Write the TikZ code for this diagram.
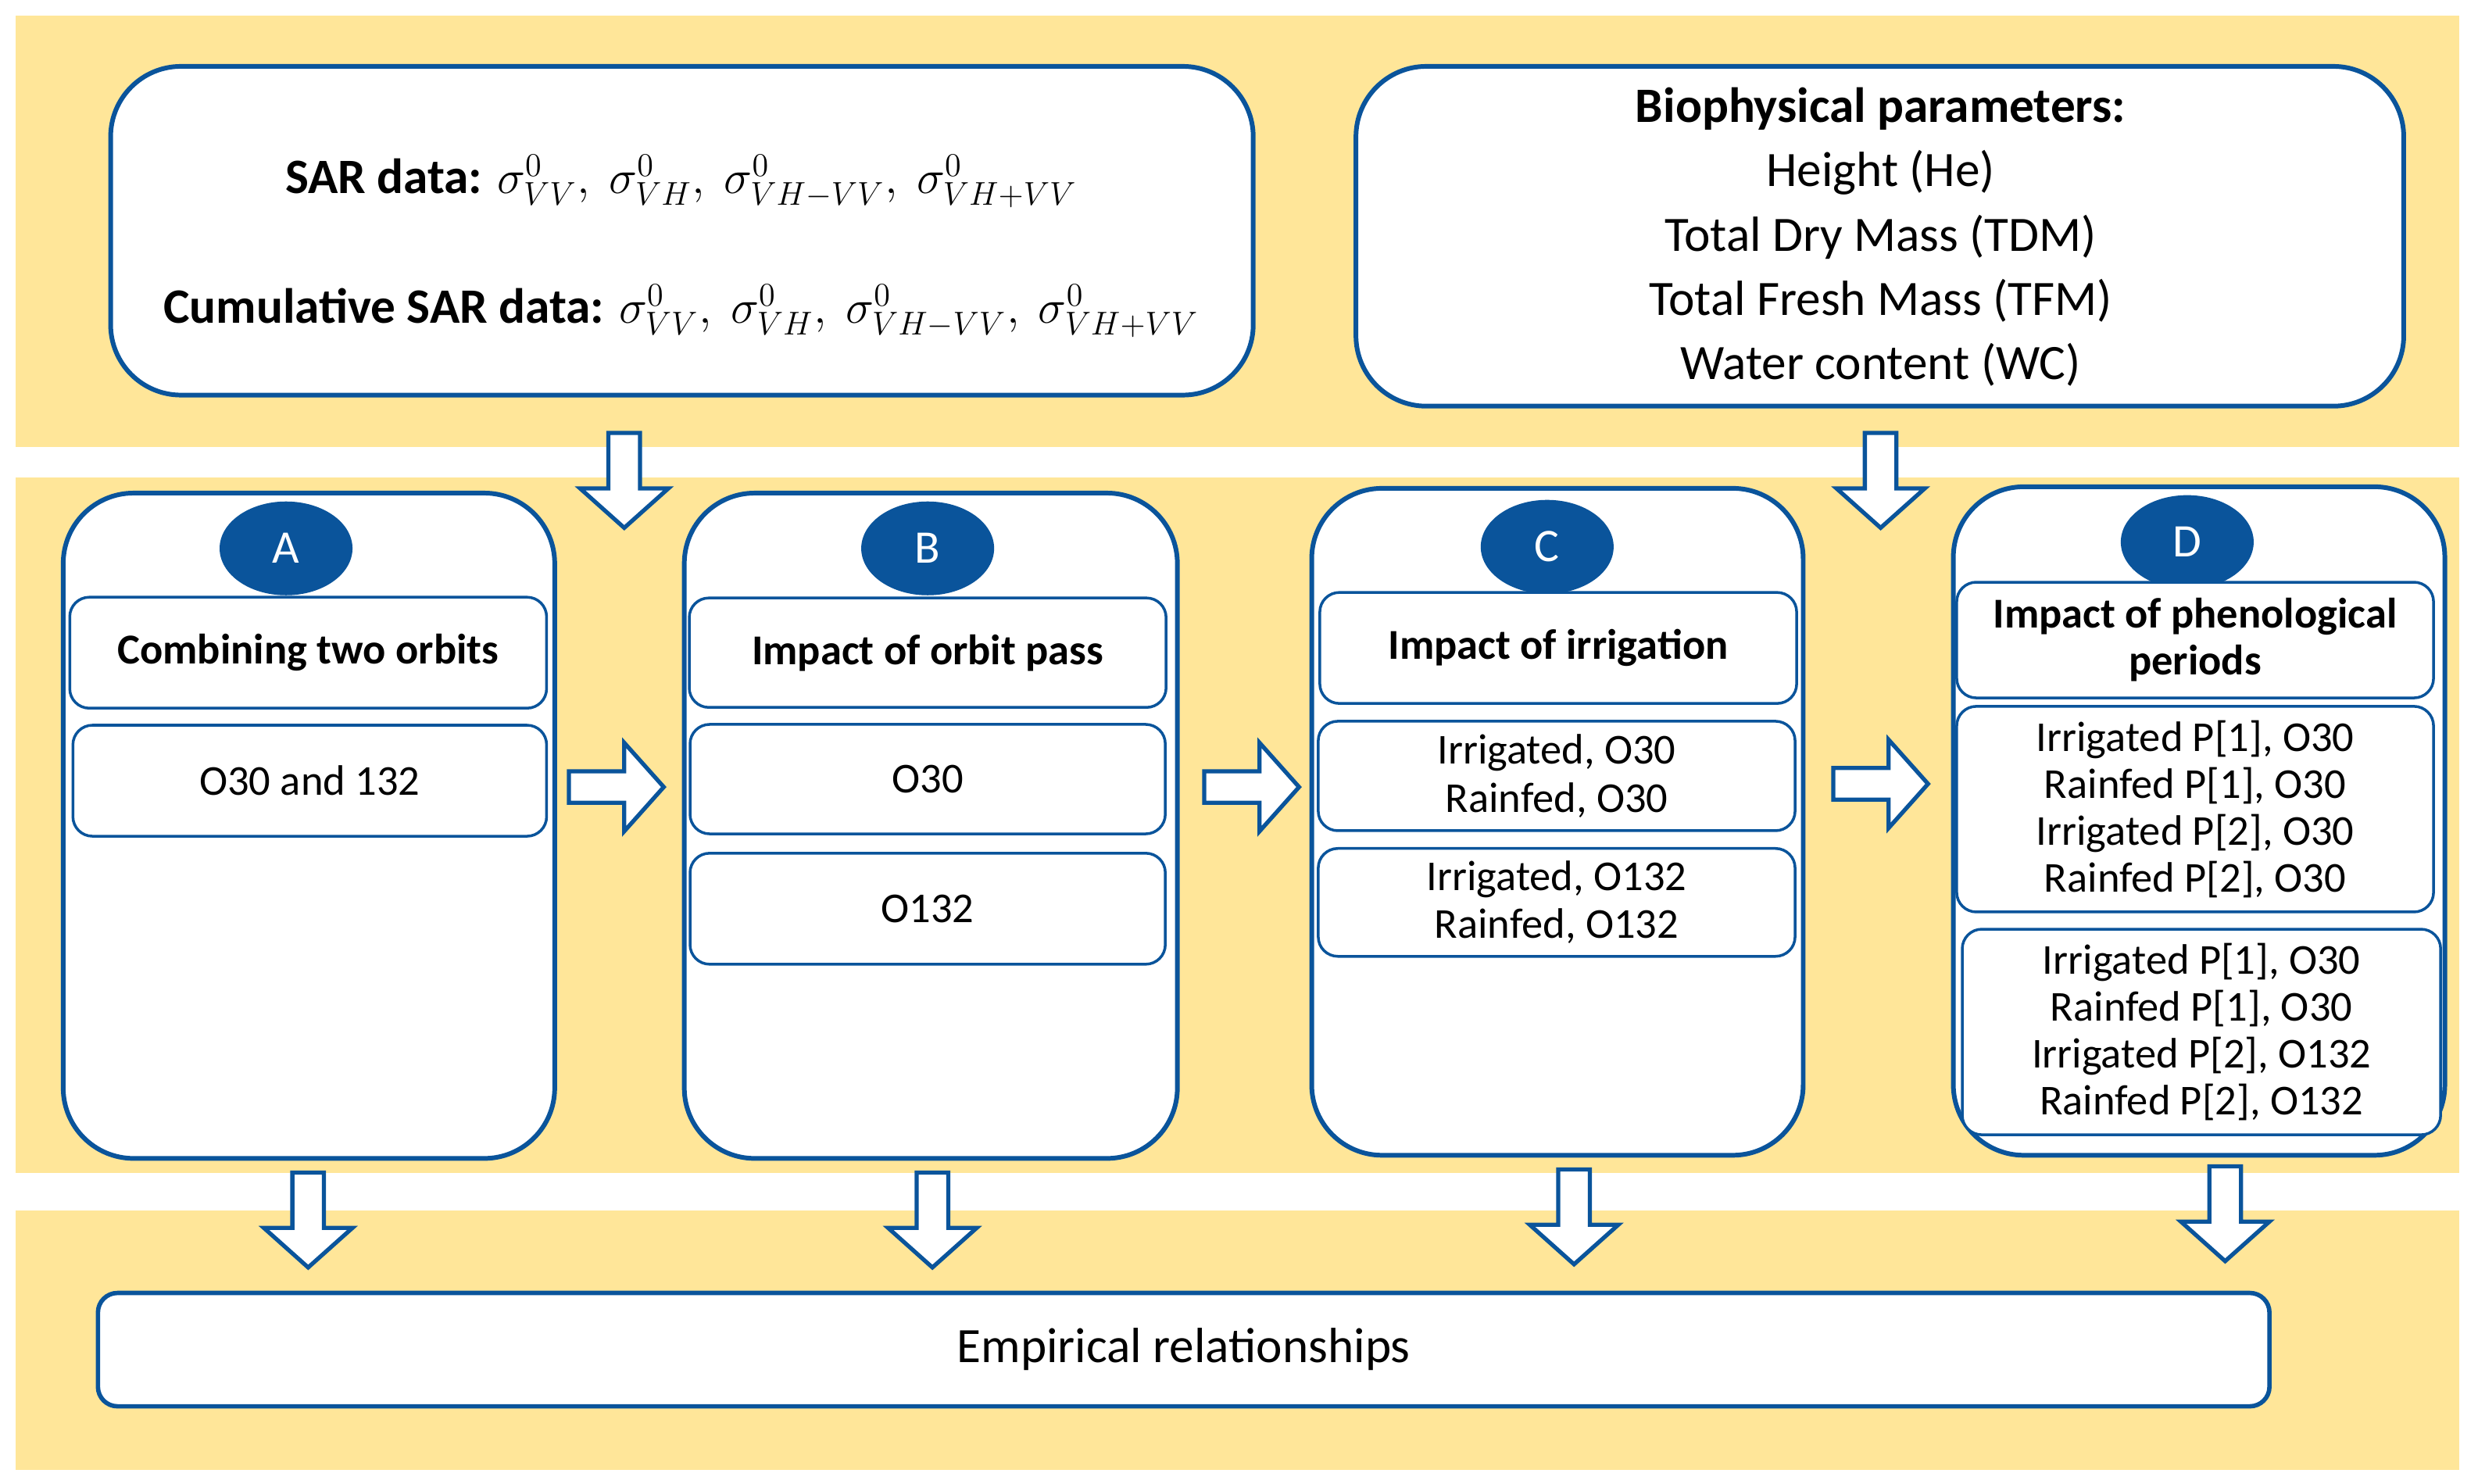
\documentclass[tikz,border=0pt]{standalone}
\usepackage{fontspec}
\setmainfont{Carlito}
\usetikzlibrary{shapes.geometric}
\definecolor{band}{RGB}{255,230,153}
\definecolor{bl}{RGB}{10,84,155}
\tikzset{x=0.020223cm,y=-0.020223cm,
 big/.style={draw=bl,line width=1.7pt,fill=white,rounded corners=0.9cm},
 inner/.style={draw=bl,line width=1pt,fill=white,rounded corners=0.25cm,align=center,font=\fontsize{15.5}{19}\selectfont},
 circ/.style={ellipse,fill=bl,text=white,minimum width=1.7cm,minimum height=1.2cm,font=\fontsize{17}{17}\selectfont},
 arr/.style={draw=bl,line width=1.5pt,fill=white},
 pics/downarr/.style={code={\draw[arr] (-10,0)--(10,0)--(10,35)--(28,35)--(0,60)--(-28,35)--(-10,35)--cycle;}},
 pics/rightarr/.style={code={\draw[arr] (0,-10)--(35,-10)--(35,-28)--(60,0)--(35,28)--(35,10)--(0,10)--cycle;}}}
\begin{document}
\begin{tikzpicture}
\useasboundingbox (0,0) rectangle (1568,939);
\fill[band] (10,10) rectangle (1556,283);
\fill[band] (10,302) rectangle (1556,742);
\fill[band] (10,766) rectangle (1556,930);
% top boxes
\draw[big] (70,42) rectangle (793,250);
\node[font=\fontsize{18}{22}\selectfont] (sar) at (431,115) {\textbf{SAR data:} $\sigma^0_{VV},\ \sigma^0_{VH},\ \sigma^0_{VH-VV},\ \sigma^0_{VH+VV}$};
\node[font=\fontsize{18}{22}\selectfont] (csar) at (431,197) {\textbf{Cumulative SAR data:} $\sigma^0_{VV},\ \sigma^0_{VH},\ \sigma^0_{VH-VV},\ \sigma^0_{VH+VV}$};
\draw[big] (858,42) rectangle (1521,257);
\node[align=center,font=\fontsize{18}{23.4}\selectfont] (bio) at (1190,150) {\textbf{Biophysical parameters:}\\Height (He)\\Total Dry Mass (TDM)\\Total Fresh Mass (TFM)\\Water content (WC)};
\pic at (395,274) {downarr};
\pic at (1190,274) {downarr};
% columns
\draw[big] (40,312) rectangle (351,733);
\draw[big] (433,312) rectangle (745,733);
\draw[big] (830,309) rectangle (1141,731);
\draw[big] (1236,308) rectangle (1547,731);
\node[circ] (cA) at (181,347) {A};
\node[circ] (cB) at (587,347) {B};
\node[circ] (cC) at (979,346) {C};
\node[circ] (cD) at (1384,343) {D};
% A
\node[inner,minimum width=6.1cm,minimum height=1.42cm] (a1) at (195,413) {\textbf{Combining two orbits}};
\node[inner,minimum width=6.06cm,minimum height=1.42cm] (a2) at (196,494) {O30 and 132};
% B
\node[inner,minimum width=6.1cm,minimum height=1.40cm] (b1) at (587,413) {\textbf{Impact of orbit pass}};
\node[inner,minimum width=6.08cm,minimum height=1.40cm] (b2) at (587,493) {O30};
\node[inner,minimum width=6.08cm,minimum height=1.42cm] (b3) at (587,575) {O132};
% C
\node[inner,minimum width=6.1cm,minimum height=1.42cm] (c1) at (986,410) {\textbf{Impact of irrigation}};
\node[inner,minimum width=6.1cm,minimum height=1.40cm,font=\fontsize{15.5}{17.5}\selectfont] (c2) at (985,491) {Irrigated, O30\\Rainfed, O30};
\node[inner,minimum width=6.1cm,minimum height=1.38cm,font=\fontsize{15.5}{17.5}\selectfont] (c3) at (985,571) {Irrigated, O132\\Rainfed, O132};
% D
\node[inner,minimum width=6.1cm,minimum height=1.48cm,font=\fontsize{15.5}{17}\selectfont] (d1) at (1389,405) {\textbf{Impact of phenological}\\\textbf{periods}};
\node[inner,minimum width=6.1cm,minimum height=2.63cm,font=\fontsize{15.5}{17}\selectfont] (d2) at (1389,512) {Irrigated P[1], O30\\Rainfed P[1], O30\\Irrigated P[2], O30\\Rainfed P[2], O30};
\node[inner,minimum width=6.12cm,minimum height=2.63cm,font=\fontsize{15.5}{17}\selectfont] (d3) at (1393,653) {Irrigated P[1], O30\\Rainfed P[1], O30\\Irrigated P[2], O132\\Rainfed P[2], O132};
% right arrows
\pic at (360,498) {rightarr};
\pic at (762,498) {rightarr};
\pic at (1160,496) {rightarr};
% down arrows
\pic at (195,742) {downarr};
\pic at (590,742) {downarr};
\pic at (996,740) {downarr};
\pic at (1408,738) {downarr};
\node[inner,line width=1.6pt,minimum width=27.78cm,minimum height=1.45cm,font=\fontsize{18}{22}\selectfont] (emp) at (749,854) {Empirical relationships};
\end{tikzpicture}
\end{document}
